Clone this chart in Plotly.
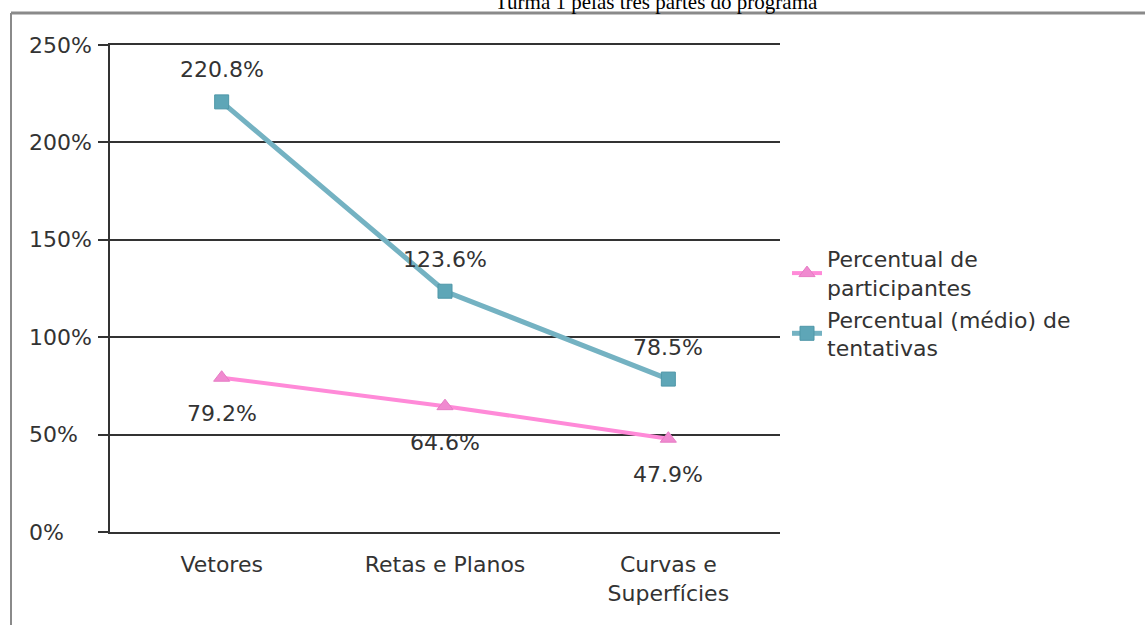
import plotly.graph_objects as go

categories = ["Vetores", "Retas e Planos", "Curvas e<br>Superfícies"]
participantes = [79.2, 64.6, 47.9]
tentativas = [220.8, 123.6, 78.5]
y_ticks = [0, 50, 100, 150, 200, 250]
y_tick_labels = ["0%", "50%", "100%", "150%", "200%", "250%"]
title_text = "Turma 1 pelas três partes do programa"

W, H = 1145, 625
L, R, T, B = 110, 365, 45, 93
pw, ph = W - L - R, H - T - B

def px_x(p):
    return (p - L) / pw

def px_y(p):
    return (H - B - p) / ph

FONT = "DejaVu Sans, Arial, sans-serif"
FS = 22
TXT = "#333333"
PINK = "#ff8ad8"
PINK_M = "#f08ad0"
BLUE = "#74b2c2"
BLUE_M = "#5ea6b7"

fig = go.Figure()
fig.add_trace(go.Scatter(
    x=categories, y=participantes, mode="lines+markers",
    name="Percentual de<br>participantes",
    line=dict(color=PINK, width=4),
    marker=dict(symbol="triangle-up", size=14, color=PINK_M,
                line=dict(color="#e67cc4", width=1)),
))
fig.add_trace(go.Scatter(
    x=categories, y=tentativas, mode="lines+markers",
    name="Percentual (médio) de<br>tentativas",
    line=dict(color=BLUE, width=5),
    marker=dict(symbol="square", size=14, color=BLUE_M,
                line=dict(color="#4f97a8", width=1)),
))

annotations = []
for c, v in zip(categories, tentativas):
    annotations.append(dict(x=c, y=v, xref="x", yref="y", text=f"{v:.1f}%",
                            showarrow=False, yshift=32,
                            font=dict(family=FONT, size=FS, color=TXT)))
for c, v in zip(categories, participantes):
    annotations.append(dict(x=c, y=v, xref="x", yref="y", text=f"{v:.1f}%",
                            showarrow=False, yshift=-36,
                            font=dict(family=FONT, size=FS, color=TXT)))
for v, t in zip(y_ticks, y_tick_labels):
    annotations.append(dict(x=px_x(27), y=v, xref="paper", yref="y", text=t,
                            xanchor="left", showarrow=False,
                            font=dict(family=FONT, size=FS, color=TXT)))
annotations.append(dict(x=px_x(656), y=px_y(16), xref="paper", yref="paper",
                        text=title_text, showarrow=False,
                        xanchor="center", yanchor="bottom",
                        font=dict(family="Liberation Serif, Times New Roman, serif",
                                  size=21, color="#000000")))

shapes = [
    dict(type="line", xref="paper", yref="paper",
         x0=px_x(11), x1=px_x(W + 5), y0=px_y(13), y1=px_y(13),
         line=dict(color="#8a8a8a", width=3)),
    dict(type="line", xref="paper", yref="paper",
         x0=px_x(11), x1=px_x(11), y0=px_y(13), y1=px_y(H + 5),
         line=dict(color="#8a8a8a", width=2)),
]

fig.update_layout(
    width=W, height=H,
    margin=dict(l=L, r=R, t=T, b=B),
    paper_bgcolor="white", plot_bgcolor="white",
    showlegend=True,
    legend=dict(x=px_x(787), y=px_y(238), xanchor="left", yanchor="top",
                font=dict(family=FONT, size=FS, color=TXT),
                tracegroupgap=0, itemwidth=30, bgcolor="rgba(0,0,0,0)"),
    annotations=annotations,
    shapes=shapes,
)
fig.update_xaxes(
    type="category", showgrid=False, zeroline=False,
    showline=True, mirror=True, linecolor="#333333", linewidth=2,
    ticks="", ticklabelstandoff=12,
    tickfont=dict(family=FONT, size=FS, color=TXT),
    range=[-0.5, 2.5],
)
fig.update_yaxes(
    range=[0, 250], tickvals=y_ticks, showticklabels=False,
    showgrid=True, gridcolor="#333333", gridwidth=2,
    zeroline=False, showline=True, linecolor="#333333", linewidth=2,
    ticks="outside", ticklen=10, tickcolor="#333333", tickwidth=2,
)

fig.write_html("out.html")
